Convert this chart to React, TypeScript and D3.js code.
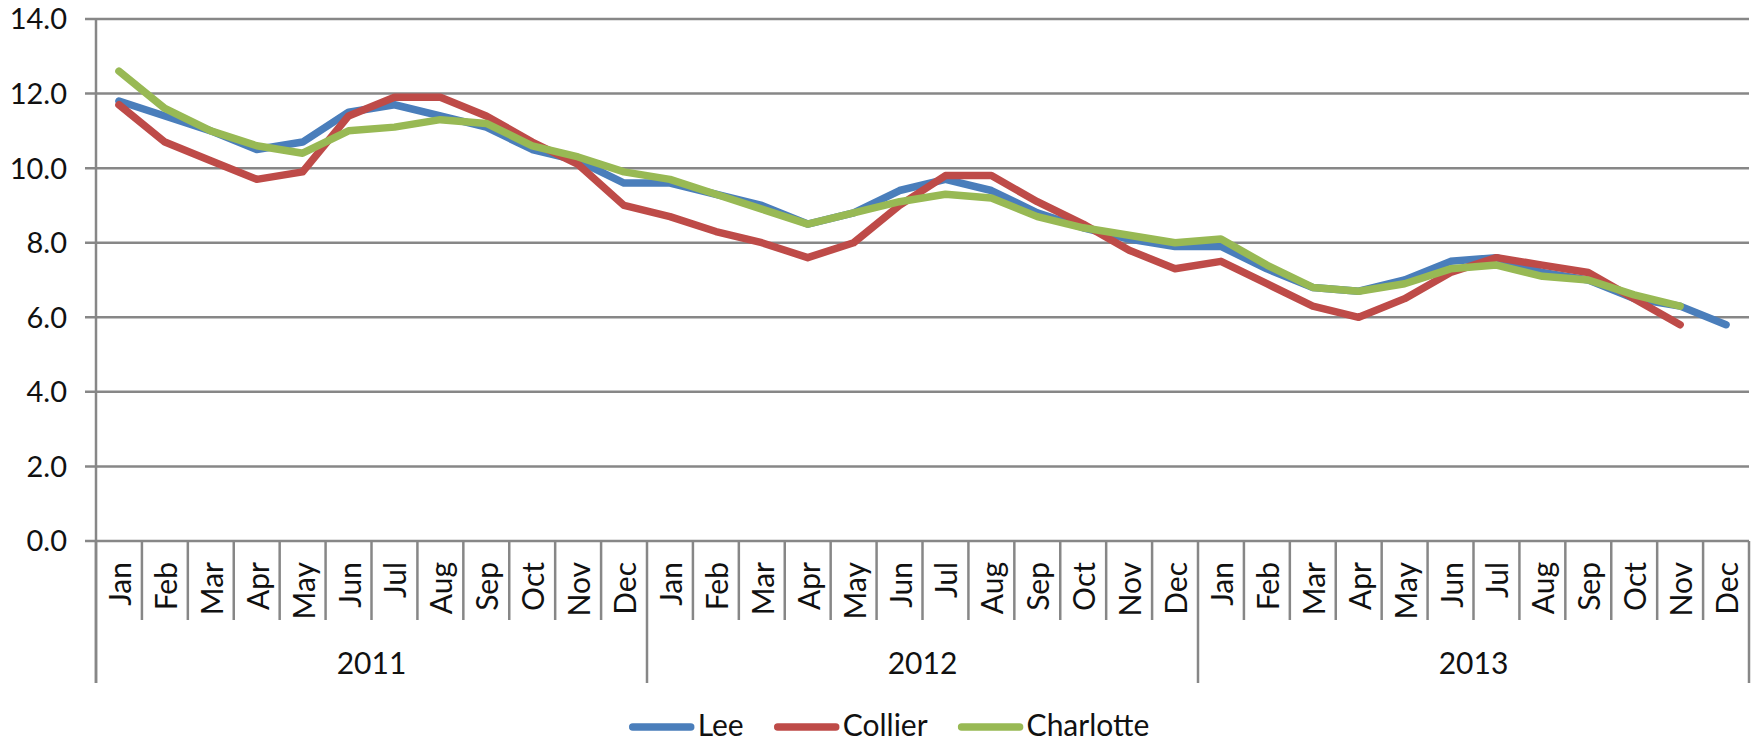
import React, { useEffect, useRef } from 'react';
import * as d3 from 'd3';

const years = ['2011', '2012', '2013'];
const months = ['Jan', 'Feb', 'Mar', 'Apr', 'May', 'Jun', 'Jul', 'Aug', 'Sep', 'Oct', 'Nov', 'Dec'];
const yTicks = [0, 2, 4, 6, 8, 10, 12, 14];

// monthly values, Jan 2011 .. Dec 2013 (null = no value)
const lee = [11.8, 11.4, 11.0, 10.5, 10.7, 11.5, 11.7, 11.4, 11.1, 10.5, 10.2, 9.6,
    9.6, 9.3, 9.0, 8.5, 8.8, 9.4, 9.7, 9.4, 8.8, 8.4, 8.1, 7.9,
    7.9, 7.3, 6.8, 6.7, 7.0, 7.5, 7.6, 7.2, 7.0, 6.5, 6.3, 5.8];
const collier = [11.7, 10.7, 10.2, 9.7, 9.9, 11.4, 11.9, 11.9, 11.4, 10.7, 10.1, 9.0,
    8.7, 8.3, 8.0, 7.6, 8.0, 9.0, 9.8, 9.8, 9.1, 8.5, 7.8, 7.3,
    7.5, 6.9, 6.3, 6.0, 6.5, 7.2, 7.6, 7.4, 7.2, 6.5, 5.8, null];
const charlotte = [12.6, 11.6, 11.0, 10.6, 10.4, 11.0, 11.1, 11.3, 11.2, 10.6, 10.3, 9.9,
    9.7, 9.3, 8.9, 8.5, 8.8, 9.1, 9.3, 9.2, 8.7, 8.4, 8.2, 8.0,
    8.1, 7.4, 6.8, 6.7, 6.9, 7.3, 7.4, 7.1, 7.0, 6.6, 6.3, null];

const seriesNames = ['Lee', 'Collier', 'Charlotte'];
const seriesValues = [lee, collier, charlotte];
const seriesColors = ['#4a7ebb', '#be4b48', '#98b954'];

const W = 1758;
const H = 744;

const App = () => {
    const ref = useRef<SVGSVGElement>(null);

    useEffect(() => {
        const svg = d3.select(ref.current);
        svg.selectAll('*').remove();

        const font = 'Lato, "Open Sans", sans-serif';
        const grey = '#878787';
        const left = 96, right = 1749, top = 19, bottom = 541;

        const periods = years.flatMap((yr) => months.map((m) => ({ year: yr, month: m })));
        const x = d3.scaleBand<number>().domain(d3.range(periods.length)).range([left, right]);
        const y = d3.scaleLinear().domain([0, 14]).range([bottom, top]);
        const cx = (i: number) => (x(i) as number) + x.bandwidth() / 2;

        // gridlines + y ticks
        svg.append('g')
            .selectAll('line')
            .data(yTicks)
            .enter()
            .append('line')
            .attr('x1', left - 11)
            .attr('x2', right)
            .attr('y1', (d) => y(d))
            .attr('y2', (d) => y(d))
            .attr('stroke', grey)
            .attr('stroke-width', 2.5);

        svg.append('g')
            .selectAll('text')
            .data(yTicks)
            .enter()
            .append('text')
            .attr('x', left - 29)
            .attr('y', (d) => y(d))
            .attr('dy', '0.36em')
            .attr('text-anchor', 'end')
            .attr('font-family', font)
            .attr('font-size', 29)
            .attr('fill', '#111')
            .text((d) => d3.format('.1f')(d));

        // left axis line
        svg.append('line')
            .attr('x1', left).attr('x2', left)
            .attr('y1', top).attr('y2', 683)
            .attr('stroke', grey).attr('stroke-width', 2.5);

        // category dividers (months short, years long)
        svg.append('g')
            .selectAll('line')
            .data(d3.range(periods.length + 1))
            .enter()
            .append('line')
            .attr('x1', (i) => (i < periods.length ? (x(i) as number) : right))
            .attr('x2', (i) => (i < periods.length ? (x(i) as number) : right))
            .attr('y1', bottom)
            .attr('y2', (i) => (i % months.length === 0 ? 683 : 620))
            .attr('stroke', grey)
            .attr('stroke-width', 2.5);

        // month labels
        svg.append('g')
            .selectAll('text')
            .data(periods)
            .enter()
            .append('text')
            .attr('transform', (d, i) => `translate(${cx(i)},562) rotate(-90)`)
            .attr('text-anchor', 'end')
            .attr('dominant-baseline', 'central')
            .attr('font-family', font)
            .attr('font-size', 30)
            .attr('fill', '#111')
            .text((d) => d.month);

        // year labels
        svg.append('g')
            .selectAll('text')
            .data(years)
            .enter()
            .append('text')
            .attr('x', (d, k) => ((x(k * 12) as number) + (k === years.length - 1 ? right : (x((k + 1) * 12) as number))) / 2)
            .attr('y', 674)
            .attr('text-anchor', 'middle')
            .attr('font-family', font)
            .attr('font-size', 30)
            .attr('fill', '#111')
            .text((d) => d);

        // series lines
        const line = d3.line<number | null>()
            .defined((d) => d != null)
            .x((d, i) => cx(i))
            .y((d) => y(d as number));

        svg.append('g')
            .selectAll('path')
            .data(seriesValues)
            .enter()
            .append('path')
            .attr('d', (d) => line(d))
            .attr('fill', 'none')
            .attr('stroke', (d, i) => seriesColors[i])
            .attr('stroke-width', 7.5)
            .attr('stroke-linejoin', 'round')
            .attr('stroke-linecap', 'round');

        // legend
        const legend = svg.append('g');
        let pos = 0;
        seriesNames.forEach((name, i) => {
            legend.append('line')
                .attr('x1', pos + 4).attr('x2', pos + 62)
                .attr('y1', 727).attr('y2', 727)
                .attr('stroke', seriesColors[i])
                .attr('stroke-width', 7.5)
                .attr('stroke-linecap', 'round');
            const t = legend.append('text')
                .attr('x', pos + 69)
                .attr('y', 736)
                .attr('font-family', font)
                .attr('font-size', 30)
                .attr('fill', '#111')
                .text(name);
            const w = (t.node() as SVGTextElement).getComputedTextLength();
            pos += 69 + w + 30;
        });
        const total = pos - 30;
        legend.attr('transform', `translate(${889 - total / 2},0)`);
    }, []);

    return (
        <svg ref={ref} width={W} height={H} style={{ position: 'absolute', left: 0, top: 0, background: '#fff' }} />
    );
};

export default App;
